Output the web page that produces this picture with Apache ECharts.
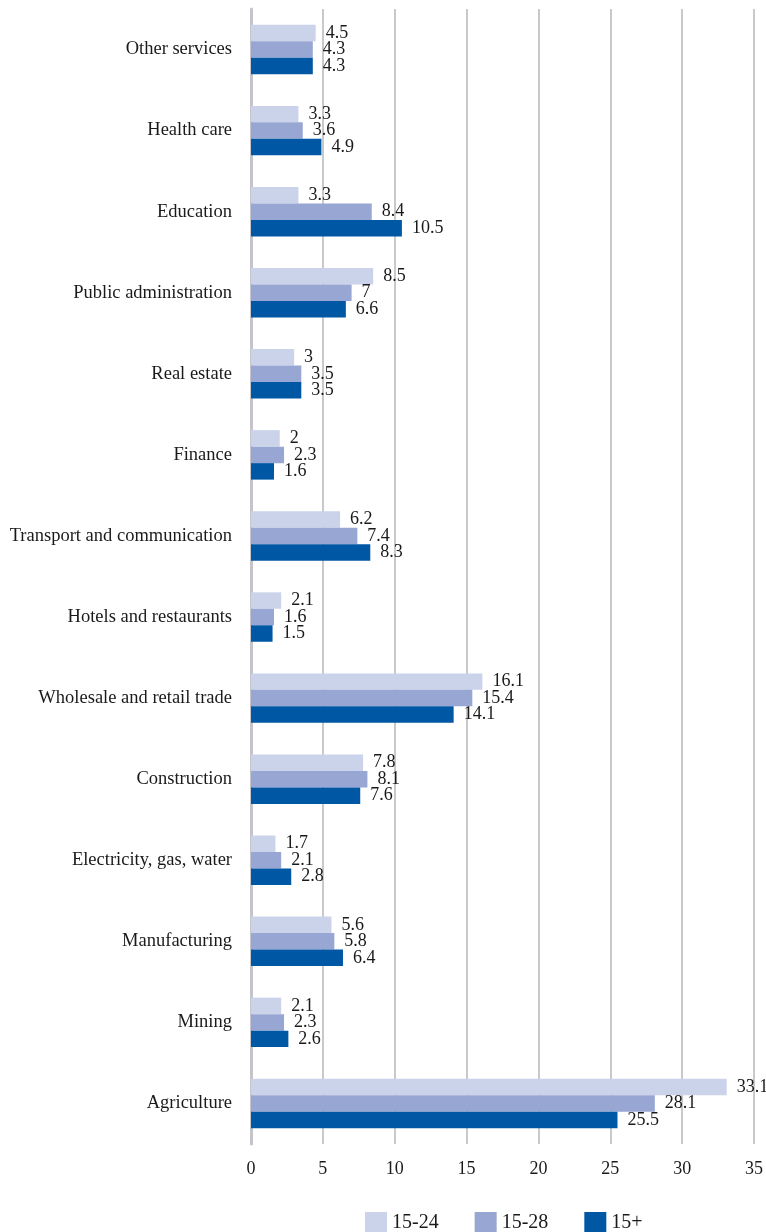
<!DOCTYPE html>
<html>
<head>
<meta charset="utf-8">
<script src="https://cdn.jsdelivr.net/npm/echarts@6/dist/echarts.min.js"></script>
<style>
  html, body { margin: 0; padding: 0; background: #ffffff; }
  #chart { width: 766px; height: 1232px; }
</style>
</head>
<body>
<div id="chart"></div>
<script>
// Employment share by sector, % (categories listed bottom to top)
const categories = [
  'Agriculture', 'Mining', 'Manufacturing', 'Electricity, gas, water',
  'Construction', 'Wholesale and retail trade', 'Hotels and restaurants',
  'Transport and communication', 'Finance', 'Real estate',
  'Public administration', 'Education', 'Health care', 'Other services'
];
const age15to24 = [33.1, 2.1, 5.6, 1.7, 7.8, 16.1, 2.1, 6.2, 2, 3, 8.5, 3.3, 3.3, 4.5];
const age15to28 = [28.1, 2.3, 5.8, 2.1, 8.1, 15.4, 1.6, 7.4, 2.3, 3.5, 7, 8.4, 3.6, 4.3];
const age15plus = [25.5, 2.6, 6.4, 2.8, 7.6, 14.1, 1.5, 8.3, 1.6, 3.5, 6.6, 10.5, 4.9, 4.3];
const seriesNames = ['15-24', '15-28', '15+'];
const xTicks = { min: 0, max: 35, interval: 5 };

const font = '"Liberation Serif", "DejaVu Serif", serif';
const colors = { '15-24': '#CBD3EA', '15-28': '#97A6D2', '15+': '#0057A4' };

function barSeries(name, data) {
  return {
    name: name,
    type: 'bar',
    data: data,
    barGap: '0%',
    barCategoryGap: '39%',
    itemStyle: { color: colors[name] },
    label: {
      show: true,
      position: 'right',
      distance: 10,
      fontFamily: font,
      fontSize: 18,
      color: '#1a1a1a'
    }
  };
}

const chart = echarts.init(document.getElementById('chart'), null, { renderer: 'canvas' });
chart.setOption({
  animation: false,
  backgroundColor: '#ffffff',
  textStyle: { fontFamily: font },
  grid: { left: 251, right: 11, top: 9, bottom: 88, containLabel: false },
  legend: {
    data: seriesNames,
    left: 360,
    top: 1207,
    itemWidth: 22,
    itemHeight: 21,
    itemGap: 36,
    icon: 'rect',
    textStyle: { fontFamily: font, fontSize: 20, color: '#1a1a1a' }
  },
  xAxis: {
    type: 'value',
    min: xTicks.min,
    max: xTicks.max,
    interval: xTicks.interval,
    axisLine: { show: false },
    axisTick: { show: false },
    splitLine: { show: true, lineStyle: { color: '#C8C8CD', width: 2 } },
    axisLabel: { fontFamily: font, fontSize: 18, color: '#1a1a1a', margin: 16 }
  },
  yAxis: {
    type: 'category',
    data: categories,
    axisLine: { show: true, lineStyle: { color: '#C4C4CA', width: 3 } },
    axisTick: { show: false },
    axisLabel: { fontFamily: font, fontSize: 18.5, color: '#1a1a1a', margin: 19 }
  },
  // 15-24 on top of each band, 15+ at the bottom
  series: [
    barSeries('15-24', age15to24),
    barSeries('15-28', age15to28),
    barSeries('15+', age15plus)
  ]
});
</script>
</body>
</html>
